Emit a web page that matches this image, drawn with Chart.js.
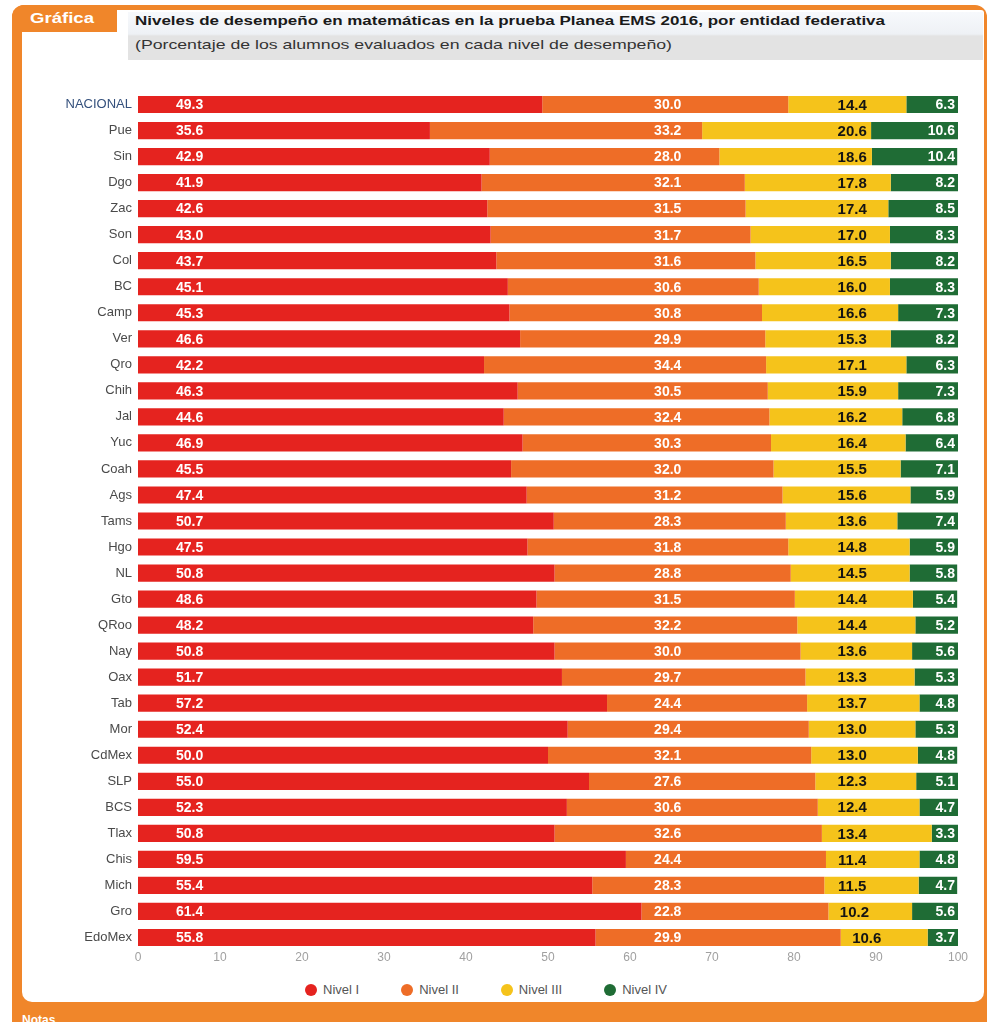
<!DOCTYPE html>
<html>
<head>
<meta charset="utf-8">
<script src="https://cdn.jsdelivr.net/npm/chart.js@4.4.1/dist/chart.umd.min.js"></script>
<style>
  html, body { margin: 0; padding: 0; background: #fff; width: 992px; height: 1022px; overflow: hidden;
    font-family: "Liberation Sans", Arial, sans-serif; }
  #frame { position: absolute; left: 12px; top: 5px; width: 975px; height: 1030px; background: #f0862a; border-radius: 12px 12px 0 0; }
  #inner { position: absolute; left: 22px; top: 10px; width: 962px; height: 992px; background: #fff; border-radius: 3px 3px 10px 10px; }
  #tab { position: absolute; left: 12px; top: 5px; width: 105px; height: 27px; background: #f0862a; border-radius: 12px 0 0 0; }
  #tabtxt { position: absolute; left: 30px; top: 10px; color: #fff; font-weight: bold; font-size: 14px; white-space: nowrap; transform-origin: 0 0; }
  #titlebox { position: absolute; left: 128px; top: 12px; width: 855px; height: 48px;
    background: linear-gradient(#f7f9fc 0, #eef1f5 46%, #e3e3e3 50%, #e3e3e3 100%); }
  .tline { position: absolute; left: 135px; white-space: nowrap; transform-origin: 0 0; color: #1a1a1a; }
  #t1 { top: 13px; font-size: 13px; font-weight: bold; }
  #t2 { top: 37px; font-size: 13px; color: #333; }
  #notas { position: absolute; left: 22px; top: 1013px; color: #fff; font-weight: bold; font-size: 12px; }
  #wrap { position: absolute; left: 22px; top: 62px; width: 961px; height: 910px; }
  #legend { position: absolute; left: 305px; top: 982px; display: flex; gap: 42px; font-size: 13px; color: #555; }
  #legend span.item { display: flex; align-items: center; }
  #legend i { display: inline-block; width: 12px; height: 12px; border-radius: 50%; margin-right: 6px; }
</style>
</head>
<body>
<div id="frame"></div>
<div id="inner"></div>
<div id="tab"></div>
<div id="tabtxt">Gráfica</div>
<div id="titlebox"></div>
<div class="tline" id="t1">Niveles de desempeño en matemáticas en la prueba Planea EMS 2016, por entidad federativa</div>
<div class="tline" id="t2">(Porcentaje de los alumnos evaluados en cada nivel de desempeño)</div>
<div id="wrap"><canvas id="chart"></canvas></div>
<div id="legend"></div>
<div id="notas">Notas</div>

<script>
/* =========================================================
   DATA
========================================================= */
const entidades = [
  "NACIONAL","Pue","Sin","Dgo","Zac","Son","Col","BC","Camp","Ver","Qro",
  "Chih","Jal","Yuc","Coah","Ags","Tams","Hgo","NL","Gto","QRoo",
  "Nay","Oax","Tab","Mor","CdMex","SLP","BCS","Tlax","Chis","Mich","Gro","EdoMex"
];

const nivel1 = [49.3,35.6,42.9,41.9,42.6,43.0,43.7,45.1,45.3,46.6,42.2,
                46.3,44.6,46.9,45.5,47.4,50.7,47.5,50.8,48.6,48.2,
                50.8,51.7,57.2,52.4,50.0,55.0,52.3,50.8,59.5,55.4,61.4,55.8];
const nivel2 = [30.0,33.2,28.0,32.1,31.5,31.7,31.6,30.6,30.8,29.9,34.4,
                30.5,32.4,30.3,32.0,31.2,28.3,31.8,28.8,31.5,32.2,
                30.0,29.7,24.4,29.4,32.1,27.6,30.6,32.6,24.4,28.3,22.8,29.9];
const nivel3 = [14.4,20.6,18.6,17.8,17.4,17.0,16.5,16.0,16.6,15.3,17.1,
                15.9,16.2,16.4,15.5,15.6,13.6,14.8,14.5,14.4,14.4,
                13.6,13.3,13.7,13.0,13.0,12.3,12.4,13.4,11.4,11.5,10.2,10.6];
const nivel4 = [6.3,10.6,10.4,8.2,8.5,8.3,8.2,8.3,7.3,8.2,6.3,
                7.3,6.8,6.4,7.1,5.9,7.4,5.9,5.8,5.4,5.2,
                5.6,5.3,4.8,5.3,4.8,5.1,4.7,3.3,4.8,4.7,5.6,3.7];

const seriesNames = ["Nivel I","Nivel II","Nivel III","Nivel IV"];
const xTicks = [0,10,20,30,40,50,60,70,80,90,100];

/* =========================================================
   HEADER TEXT FIT
========================================================= */
function fitText(id, target) {
  const el = document.getElementById(id);
  const w = el.getBoundingClientRect().width;
  el.style.transform = "scaleX(" + (target / w) + ")";
}
fitText("t1", 750);
fitText("t2", 537);
fitText("tabtxt", 64);

/* =========================================================
   VALUE LABELS PLUGIN
========================================================= */
const valueLabels = {
  id: "valueLabels",
  afterDatasetsDraw(chart) {
    const { ctx } = chart;
    const x = chart.scales.x;
    ctx.save();
    ctx.textBaseline = "middle";
    chart.data.datasets.forEach((ds, di) => {
      const meta = chart.getDatasetMeta(di);
      meta.data.forEach((bar, i) => {
        const txt = ds.data[i].toFixed(1);
        let px, align = "center";
        if (di === 0) px = x.getPixelForValue(6.3);
        else if (di === 1) px = x.getPixelForValue(64.6);
        else if (di === 2) px = Math.max(x.getPixelForValue(87.1), Math.min(bar.base, bar.x) + 26);
        else { px = x.getPixelForValue(100) - 3; align = "right"; }
        ctx.font = di === 2 ? 'bold 15px "Liberation Sans", Arial, sans-serif'
                            : 'bold 14px "Liberation Sans", Arial, sans-serif';
        ctx.fillStyle = di === 2 ? "#141414" : "#fff";
        ctx.textAlign = align;
        ctx.fillText(txt, px, bar.y + 1);
      });
    });
    ctx.restore();
  }
};

/* =========================================================
   CHART
========================================================= */
const colors = ["#e5231f", "#ee6d27", "#f5c31b", "#1f6c35"];
const values = [nivel1, nivel2, nivel3, nivel4];

const chart = new Chart(document.getElementById("chart"), {
  type: "bar",
  data: {
    labels: entidades,
    datasets: seriesNames.map((name, k) => ({
      label: name,
      data: values[k],
      backgroundColor: colors[k],
      borderWidth: 0,
      categoryPercentage: 1,
      barPercentage: 0.66
    }))
  },
  options: {
    indexAxis: "y",
    responsive: true,
    maintainAspectRatio: false,
    animation: false,
    layout: { padding: { top: 29.5, right: 25, bottom: 3.5, left: 0 } },
    plugins: {
      legend: { display: false },
      tooltip: { enabled: false }
    },
    scales: {
      x: {
        stacked: true,
        min: 0,
        max: 100,
        afterBuildTicks: s => { s.ticks = xTicks.map(v => ({ value: v })); },
        afterFit: s => { s.height = 18; },
        grid: { display: false, drawTicks: false },
        border: { display: false },
        ticks: { padding: 0, color: "#a0a0a0", font: { size: 12, family: '"Liberation Sans", Arial, sans-serif' } }
      },
      y: {
        stacked: true,
        afterFit: s => { s.width = 116; },
        grid: { display: false, drawTicks: false },
        border: { display: false },
        ticks: {
          padding: 6,
          autoSkip: false,
          color: c => c.index === 0 ? "#34507c" : "#4a4a4a",
          font: { size: 13, family: '"Liberation Sans", Arial, sans-serif' }
        }
      }
    }
  },
  plugins: [valueLabels]
});

/* =========================================================
   LEGEND
========================================================= */
document.getElementById("legend").innerHTML = seriesNames
  .map((n, k) => `<span class="item"><i style="background:${colors[k]}"></i>${n}</span>`)
  .join("");
</script>
</body>
</html>
